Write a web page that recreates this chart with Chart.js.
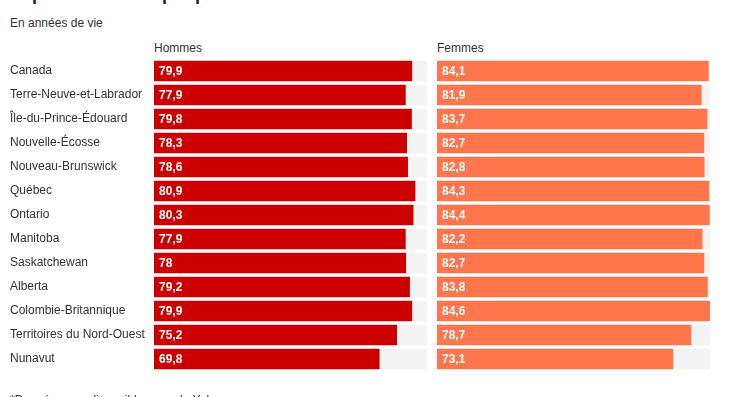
<!DOCTYPE html>
<html lang="fr">
<head>
    <meta charset="UTF-8">
    <title>Espérance de vie par province</title>
    <script src="https://cdn.jsdelivr.net/npm/chart.js@4.4.1/dist/chart.umd.js"></script>
    <style>
        body { margin: 0; width: 756px; height: 397px; overflow: hidden; background: #fff;
               font-family: Arial, "Liberation Sans", Helvetica, sans-serif; color: #333; position: relative; }
        .txt { position: absolute; white-space: nowrap; font-size: 12px; line-height: 14px; }
        #title { left: 10px; top: -15px; font-size: 18px; line-height: 18px; font-weight: bold; color: #222; }
        #sub { left: 10px; top: 16px; }
        #hHead { left: 154px; top: 41px; }
        #fHead { left: 437px; top: 41px; }
        #note { left: 10px; top: 393px; }
        canvas { position: absolute; top: 0; }
        #hommesChart { left: 0; }
        #femmesChart { left: 437px; }
    </style>
</head>
<body>
    <div class="txt" id="title">Espérance de vie par province</div>
    <div class="txt" id="sub">En années de vie</div>
    <div class="txt" id="hHead">Hommes</div>
    <div class="txt" id="fHead">Femmes</div>
    <canvas id="hommesChart" width="430" height="397"></canvas>
    <canvas id="femmesChart" width="273" height="397"></canvas>
    <div class="txt" id="note">*Données non disponibles pour le Yukon</div>

    <script>
        const provinces = ['Canada', 'Terre-Neuve-et-Labrador', 'Île-du-Prince-Édouard', 'Nouvelle-Écosse',
            'Nouveau-Brunswick', 'Québec', 'Ontario', 'Manitoba', 'Saskatchewan', 'Alberta',
            'Colombie-Britannique', 'Territoires du Nord-Ouest', 'Nunavut'];
        const hommes = [79.9, 77.9, 79.8, 78.3, 78.6, 80.9, 80.3, 77.9, 78, 79.2, 79.9, 75.2, 69.8];
        const femmes = [84.1, 81.9, 83.7, 82.7, 82.8, 84.3, 84.4, 82.2, 82.7, 83.8, 84.6, 78.7, 73.1];

        const FONT = 'Arial, "Liberation Sans", Helvetica, sans-serif';
        Chart.defaults.font.family = FONT;
        Chart.defaults.font.size = 12;
        Chart.defaults.color = '#333';

        // shared scale so both panels are comparable
        const maxVal = Math.max(...hommes, ...femmes);

        // writes the value inside the start of each coloured bar
        const valueLabels = {
            id: 'valueLabels',
            afterDatasetsDraw(chart) {
                const ctx = chart.ctx;
                const meta = chart.getDatasetMeta(0);
                const vals = chart.data.datasets[0].data;
                ctx.save();
                ctx.font = 'bold 12px ' + FONT;
                ctx.fillStyle = '#fff';
                ctx.textAlign = 'left';
                ctx.textBaseline = 'middle';
                meta.data.forEach((bar, i) => {
                    ctx.fillText(String(vals[i]).replace('.', ','), bar.base + 5, bar.y + 0.5);
                });
                ctx.restore();
            }
        };

        function makeChart(id, values, color, showLabels) {
            const yAxis = {
                stacked: true,
                display: showLabels,
                grid: { display: false },
                border: { display: false },
                ticks: { crossAlign: 'far', color: '#333', font: { size: 12 } }
            };
            if (showLabels) yAxis.afterFit = axis => { axis.width = 144; };

            return new Chart(document.getElementById(id), {
                type: 'bar',
                data: {
                    labels: provinces,
                    datasets: [
                        { data: values, backgroundColor: color, barThickness: 20 },
                        { data: values.map(v => maxVal - v), backgroundColor: '#f3f3f3', barThickness: 20 }
                    ]
                },
                options: {
                    indexAxis: 'y',
                    responsive: false,
                    animation: false,
                    layout: { padding: { top: 59, bottom: 26, left: showLabels ? 10 : 0, right: showLabels ? 3 : 0 } },
                    plugins: { legend: { display: false }, tooltip: { enabled: false } },
                    scales: {
                        x: { stacked: true, min: 0, max: maxVal, display: false },
                        y: yAxis
                    }
                },
                plugins: [valueLabels]
            });
        }

        makeChart('hommesChart', hommes, '#cc0000', true);
        makeChart('femmesChart', femmes, '#ff754c', false);
    </script>
</body>
</html>
